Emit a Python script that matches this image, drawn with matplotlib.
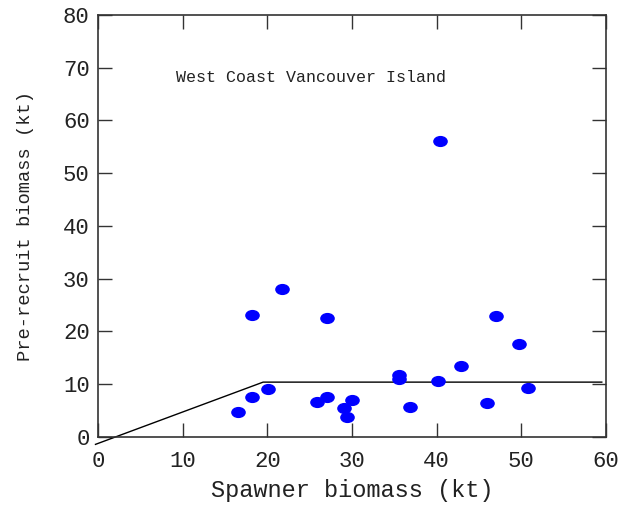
import matplotlib.pyplot as plt
import numpy as np
from matplotlib.path import Path
from matplotlib.transforms import Affine2D

# Данные: биомасса производителей и пополнения (кт)
spawner = [40.4, 21.7, 18.2, 27.1, 47.0, 49.7, 42.9, 35.5, 35.5, 40.1,
           50.8, 20.1, 18.2, 27.1, 25.9, 30.0, 29.1, 29.4, 36.8, 46.0, 16.5]
recruit = [56.1, 28.0, 23.2, 22.6, 22.9, 17.6, 13.5, 11.8, 11.0, 10.6,
           9.2, 9.1, 7.6, 7.6, 6.6, 7.1, 5.4, 3.7, 5.7, 6.5, 4.7]

# Линия "хоккейной клюшки"
hcr_x = [-0.3, 19.5, 59.5]
hcr_y = [-1.4, 10.4, 10.4]

xticks = [0, 10, 20, 30, 40, 50, 60]
yticks = [0, 10, 20, 30, 40, 50, 60, 70, 80]

plt.rcParams['font.family'] = ['Liberation Mono', 'DejaVu Sans Mono']

fig = plt.figure(figsize=(6.22, 5.08), dpi=100)
ax = fig.add_axes([0.1576, 0.1398, 0.8167, 0.8307])

# эллиптический маркер
ellipse = Path.unit_circle().transformed(Affine2D().scale(1.35, 1.0))

ax.plot(hcr_x, hcr_y, color='black', linewidth=1.0, clip_on=False, zorder=2)
ax.plot(spawner, recruit, linestyle='none', marker=ellipse, markersize=9.5,
        color='#0000ff', markeredgecolor='#0000ff', zorder=3)

ax.text(9.2, 68.2, 'West Coast Vancouver Island', fontsize=12, ha='left', va='center',
        color='#222222')

ax.set_xlim(0, 60)
ax.set_ylim(0, 80)
ax.set_xticks(xticks)
ax.set_yticks(yticks)
ax.tick_params(direction='in', length=10, width=1.0, top=True, right=True,
               labelsize=16, colors='#333333', labelcolor='#222222')
ax.tick_params(axis='x', pad=10)
ax.tick_params(axis='y', pad=6)
for s in ax.spines.values():
    s.set_linewidth(1.2)
    s.set_color('#333333')

ax.set_xlabel('Spawner biomass (kt)', fontsize=17, color='#222222', labelpad=5)
ax.set_ylabel('Pre-recruit biomass (kt)', fontsize=13.5, color='#222222', labelpad=21)

fig.savefig('out.png', dpi=100)
